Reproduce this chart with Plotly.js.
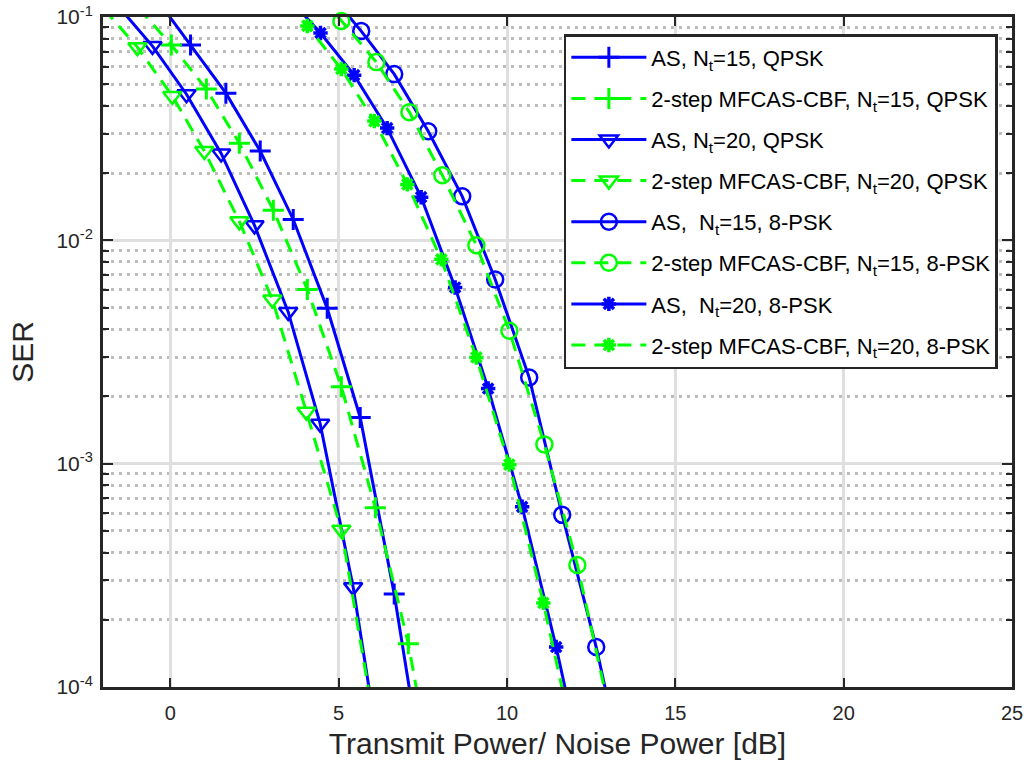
<!DOCTYPE html>
<html>
<head>
<meta charset="utf-8">
<script src="https://cdn.plot.ly/plotly-3.0.1.min.js"></script>
<style>html,body{margin:0;padding:0;background:#fff;}#chart{width:1027px;height:760px;}</style>
</head>
<body>
<div id="chart"></div>
<script>
// ---- data ----
const seriesNames = [
  "AS, N<sub>t</sub>=15, QPSK",
  "2-step MFCAS-CBF, N<sub>t</sub>=15, QPSK",
  "AS, N<sub>t</sub>=20, QPSK",
  "2-step MFCAS-CBF, N<sub>t</sub>=20, QPSK",
  "AS,\u00a0 N<sub>t</sub>=15, 8-PSK",
  "2-step MFCAS-CBF, N<sub>t</sub>=15, 8-PSK",
  "AS,\u00a0 N<sub>t</sub>=20, 8-PSK",
  "2-step MFCAS-CBF, N<sub>t</sub>=20, 8-PSK"
];

const x_AS15_QPSK = [-0.4, 0.6, 1.65, 2.67, 3.65, 4.66, 5.64, 6.65, 7.65];
const y_AS15_QPSK = [0.12, 0.0749, 0.0456, 0.0251, 0.0124, 0.00496, 0.00161, 2.61e-4, 3e-5];

const x_MF15_QPSK = [-0.95, 0.03, 1.07, 2.05, 3.06, 4.07, 5.08, 6.09, 7.07, 8.07];
const y_MF15_QPSK = [0.11, 0.0749, 0.0476, 0.0272, 0.01365, 0.00602, 0.00221, 6.35e-4, 1.56e-4, 2.3e-5];

const x_AS20_QPSK = [-1.53, -0.53, 0.48, 1.51, 2.5, 3.5, 4.45, 5.43, 6.43];
const y_AS20_QPSK = [0.111, 0.0741, 0.0451, 0.0245, 0.01167, 0.00478, 0.00151, 2.8e-4, 3.1e-5];

const x_MF20_QPSK = [-1.98, -0.98, 0.06, 1.01, 2.05, 3.03, 4.04, 5.08, 6.08];
const y_MF20_QPSK = [0.109, 0.0733, 0.0443, 0.0251, 0.01216, 0.00543, 0.00171, 5.06e-4, 6.6e-5];

const x_AS15_8PSK = [4.67, 5.67, 6.65, 7.66, 8.67, 9.65, 10.66, 11.64, 12.65, 13.65];
const y_AS15_8PSK = [0.131, 0.0865, 0.0555, 0.0308, 0.01574, 0.00668, 0.00243, 5.9e-4, 1.51e-4, 3.1e-5];

const x_MF15_8PSK = [4.08, 5.08, 6.12, 7.10, 8.08, 9.09, 10.07, 11.11, 12.09, 13.09];
const y_MF15_8PSK = [0.145, 0.096, 0.0628, 0.0375, 0.01955, 0.0095, 0.00394, 0.00122, 3.52e-4, 7.2e-5];

const x_AS20_8PSK = [3.46, 4.46, 5.46, 6.44, 7.45, 8.46, 9.44, 10.45, 11.46, 12.46];
const y_AS20_8PSK = [0.124, 0.0848, 0.0549, 0.0318, 0.0156, 0.00615, 0.00217, 6.41e-4, 1.51e-4, 3.1e-5];

const x_MF20_8PSK = [3.07, 4.07, 5.08, 6.06, 7.04, 8.05, 9.09, 10.07, 11.08, 12.08];
const y_MF20_8PSK = [0.139, 0.0912, 0.0585, 0.0342, 0.0178, 0.00822, 0.00299, 9.9e-4, 2.38e-4, 4.9e-5];

const xTickVals = [0, 5, 10, 15, 20, 25];
const yTickVals = [1e-4, 1e-3, 1e-2, 1e-1];
const yTickText = ["10<sup>-4</sup>", "10<sup>-3</sup>", "10<sup>-2</sup>", "10<sup>-1</sup>"];

// ---- styling ----
const BLUE = "#0000ff", GREEN = "#00ff00";
const dashPat = "14px,9px";

function mk(name, x, y, color, dashed, symbol, size, mlw) {
  return {
    type: "scatter", mode: "lines+markers", name: name, x: x, y: y,
    cliponaxis: false,
    line: {color: color, width: 3, dash: dashed ? dashPat : "solid"},
    marker: {symbol: symbol, size: size, color: color, line: {color: color, width: mlw}},
    legendgroup: name
  };
}

const traces = [
  mk(seriesNames[0], x_AS15_QPSK, y_AS15_QPSK, BLUE, false, "cross-thin", 15, 3),
  mk(seriesNames[1], x_MF15_QPSK, y_MF15_QPSK, GREEN, true, "cross-thin", 15, 3),
  mk(seriesNames[2], x_AS20_QPSK, y_AS20_QPSK, BLUE, false, "triangle-down-open", 16, 2.5),
  mk(seriesNames[3], x_MF20_QPSK, y_MF20_QPSK, GREEN, true, "triangle-down-open", 16, 2.5),
  mk(seriesNames[4], x_AS15_8PSK, y_AS15_8PSK, BLUE, false, "circle-open", 16, 2.5),
  mk(seriesNames[5], x_MF15_8PSK, y_MF15_8PSK, GREEN, true, "circle-open", 16, 2.5),
  mk(seriesNames[6], x_AS20_8PSK, y_AS20_8PSK, BLUE, false, "asterisk-open", 12, 3.5),
  mk(seriesNames[7], x_MF20_8PSK, y_MF20_8PSK, GREEN, true, "asterisk-open", 12, 3.5)
];

const AX = "#262626";
const layout = {
  width: 1027, height: 760,
  paper_bgcolor: "#ffffff", plot_bgcolor: "#ffffff",
  margin: {l: 103, r: 15, t: 17, b: 73},
  font: {family: "Liberation Sans, Arial, sans-serif", color: AX, size: 20},
  showlegend: true,
  legend: {
    x: 0.507, y: 0.9746, xanchor: "left", yanchor: "top",
    bgcolor: "#ffffff", bordercolor: AX, borderwidth: 2.5,
    font: {size: 22, color: "#000000"}, itemwidth: 75, tracegroupgap: 9.5,
    itemclick: false
  },
  xaxis: {
    type: "linear", range: [-2, 25], tickvals: xTickVals,
    ticks: "inside", ticklen: 9, tickwidth: 2, tickcolor: AX,
    showline: true, linecolor: AX, linewidth: 3, mirror: "ticks",
    showgrid: true, gridcolor: "#dfdfdf", gridwidth: 3,
    zeroline: false, tickfont: {size: 20, color: AX}, ticklabelstandoff: 6,
    title: {text: "Transmit Power/ Noise Power [dB]", font: {size: 30, color: AX}, standoff: 11}
  },
  yaxis: {
    type: "log", range: [-4, -1], tickvals: yTickVals, ticktext: yTickText,
    ticks: "inside", ticklen: 10, tickwidth: 2, tickcolor: AX,
    showline: true, linecolor: AX, linewidth: 3, mirror: "ticks",
    showgrid: true, gridcolor: "#dfdfdf", gridwidth: 3,
    zeroline: false, tickfont: {size: 21, color: AX}, ticklabelstandoff: 3,
    minor: {dtick: "D1", ticks: "inside", ticklen: 6, tickwidth: 2, tickcolor: AX,
            showgrid: true, gridcolor: "#bdbdbd", gridwidth: 3, griddash: "3px,5px"},
    title: {text: "SER", font: {size: 30, color: AX}, standoff: 14}
  }
};

Plotly.newPlot("chart", traces, layout, {staticPlot: true, displayModeBar: false});
</script>
</body>
</html>
